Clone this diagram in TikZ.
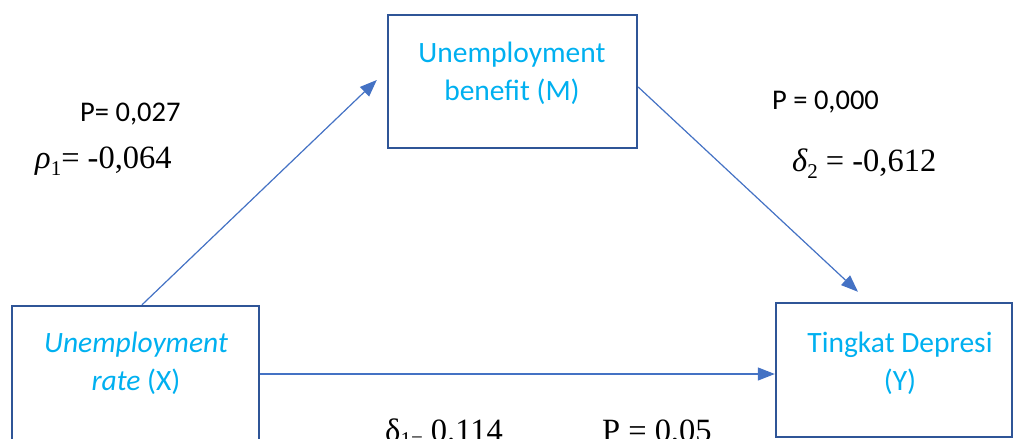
\documentclass[tikz,border=0pt]{standalone}
\usepackage{fontspec}
\setmainfont{Carlito}
\newfontfamily\tms{Liberation Serif}
\usetikzlibrary{arrows.meta,calc}
\definecolor{boxblue}{HTML}{2F5597}
\definecolor{txtblue}{HTML}{00B0F0}
\definecolor{arrblue}{HTML}{4472C4}
\tikzset{
  varbox/.style={draw=boxblue, line width=2.4pt, rectangle, inner sep=0pt},
  vartext/.style={text=txtblue, align=center, font=\fontsize{29.5}{38}\selectfont},
  plabel/.style={font=\fontsize{28.5}{34}\selectfont, inner sep=0pt},
  coef/.style={font=\tms\fontsize{32.5}{38}\selectfont, inner sep=0pt},
  link/.style={draw=arrblue, line width=1.2pt, -{Triangle[length=17pt,width=13pt]}}
}
\begin{document}
\begin{tikzpicture}[x=1pt,y=-1pt]
\useasboundingbox (0,0) rectangle (1013,439);
\clip (0,0) rectangle (1013,439);
% boxes
\node[varbox, minimum width=249pt, minimum height=133pt] (m) at (512.5,81.5) {};
\node[varbox, minimum width=247pt, minimum height=136pt] (x) at (135.5,374) {};
\node[varbox, minimum width=236pt, minimum height=134pt] (y) at (894,370) {};
% box texts
\node[vartext] (mt) at (512,73) {Unemployment\\benefit (M)};
\node[vartext] (xt) at (136,363) {\itshape Unemployment\\\itshape rate \upshape(X)};
\node[vartext] (yt) at (900,363) {Tingkat Depresi\\(Y)};
% connectors
\coordinate (mtip) at ([xshift=-10pt,yshift=1.5pt]m.west);
\coordinate (ytip) at ([xshift=-36pt,yshift=10pt]y.north);
\draw[link] ([xshift=6.5pt]x.north) -- (mtip);
\draw[link] ([yshift=-5.5pt]m.east) -- (ytip);
\draw[link] (x.east) -- (x.east -| y.west);
% labels
\node[plabel, anchor=base west] (p1) at (80,121) {P= 0,027};
\node[coef, anchor=base west] (r1) at (35,168) {{\itshape ρ}\raisebox{-0.22em}{\fontsize{21}{24}\selectfont 1}= -0,064};
\node[plabel, anchor=base west] (p2) at (772,109) {P = 0,000};
\node[coef, anchor=base west] (d2) at (792,171) {{\itshape δ}\raisebox{-0.22em}{\fontsize{21}{24}\selectfont 2} = -0,612};
\node[coef, anchor=base west] (d1) at (385,441) {δ\raisebox{-0.18em}{\fontsize{21}{24}\selectfont 1=} 0.114};
\node[coef, anchor=base west] (p3) at (602,441) {P = 0,05};
\end{tikzpicture}
\end{document}
